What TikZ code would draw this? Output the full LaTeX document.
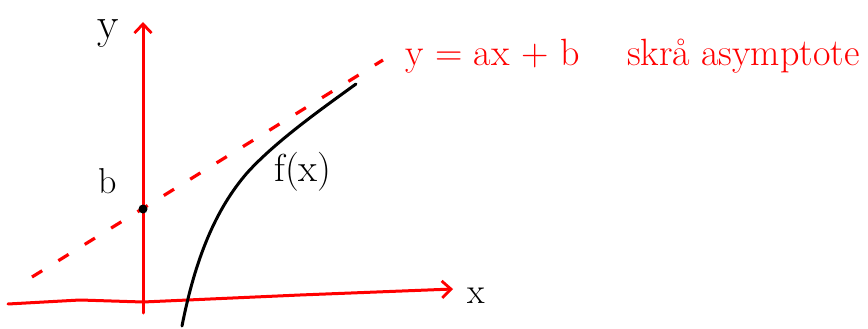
\documentclass[tikz,border=0pt]{standalone}
\usetikzlibrary{arrows.meta}
\definecolor{pen}{RGB}{255,0,0}
\begin{document}
\begin{tikzpicture}[x=1pt,y=-1pt,
  axis/.style={draw=pen,line width=3pt,line cap=round,line join=round,
    -{Straight Barb[length=9pt,width=17pt,line width=2.8pt]}},
  asym/.style={draw=pen,line width=3.2pt,dash pattern=on 12pt off 19pt},
  curvef/.style={draw=black,line width=3pt,line cap=round},
  lbl/.style={inner sep=0pt,font=\fontsize{36}{40}\selectfont},
  redlbl/.style={inner sep=0pt,text=pen,font=\fontsize{38}{42}\selectfont},
  dotb/.style={circle,fill=black,inner sep=0pt,minimum size=9pt}]
\useasboundingbox (0,0) rectangle (868,329);
% axes
\coordinate (xs) at (8,304);
\coordinate (xe) at (453,289);
\coordinate (ys) at (143,313);
\coordinate (ye) at (143,22);
\draw[axis] (xs) -- (80,300) -- (143,302) -- (300,295) -- (xe);
\draw[axis] (ys) -- (ye);
% asymptote
\coordinate (as) at (32,277);
\coordinate (ae) at (383,60);
\draw[asym] (as) -- (ae);
% curve f(x)
\coordinate (fs) at (182,326);
\coordinate (fm) at (247,173);
\coordinate (fe) at (356,84);
\draw[curvef] (fs) .. controls (195,260) and (215,210) .. (fm)
  .. controls (275,142) and (320,110) .. (fe);
% intercept
\node[dotb] (bdot) at (143,209) {};
% labels
\node[lbl,font=\fontsize{44}{48}\selectfont] (ylab) at (108,34) {y};
\node[lbl] (blab) at (108,181) {b};
\node[lbl] (xlab) at (476,296) {x};
\node[lbl,font=\fontsize{39}{44}\selectfont] (flab) at (303,172) {f(x)};
\node[redlbl,anchor=base west] (asymlab) at (405,66) {y = ax + b\hspace{36pt} skrå asymptote};
\end{tikzpicture}
\end{document}
